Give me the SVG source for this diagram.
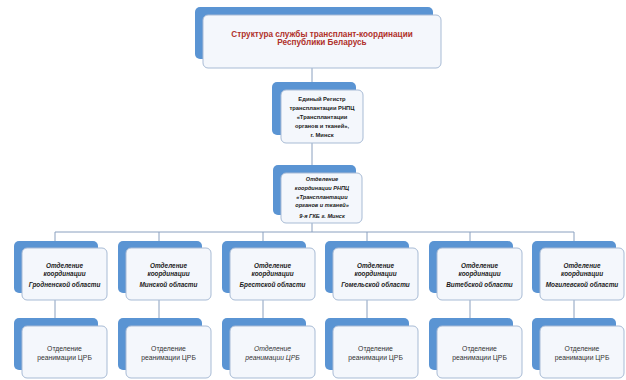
<svg xmlns="http://www.w3.org/2000/svg" width="626" height="380" viewBox="0 0 626 380">
<style>
.bk{fill:#5a94d3}
.fr{fill:#f4f7fc;stroke:#a8bbd5;stroke-width:1}
.ln{stroke:#8aa0bf;stroke-width:1;fill:none}
text{font-family:"Liberation Sans",Arial,sans-serif;text-anchor:middle;fill:#1a1a1a}
.t0{font-size:8.2px;font-weight:bold;fill:#b0302a}
.b{font-size:5.8px;font-weight:bold}
.bi{font-size:5.6px;font-weight:bold;font-style:italic}
.ri{font-size:6.4px;font-weight:bold;font-style:italic}
.n{font-size:6.8px;fill:#333333}
.ni{font-size:6.8px;font-style:italic;fill:#333333}
</style>
<rect width="626" height="380" fill="#ffffff"/>
<g id="connectors">
<path class="ln" d="M312 68V82M312 143V165M312 223V232M55 232H574"/>
<path class="ln" d="M55 232V241M159 232V241M263 232V241M367 232V241M470 232V241M574 232V241"/>
<path class="ln" d="M55 300V318M159 300V318M263 300V318M367 300V318M470 300V318M574 300V318"/>
</g>
<g id="top">
<rect class="bk" x="195" y="7" width="238" height="52" rx="5"/>
<rect class="fr" x="203" y="15" width="238" height="53" rx="5"/>
<text class="t0" x="322" y="37">Структура службы трансплант-координации</text>
<text class="t0" x="322" y="45">Республики Беларусь</text>
</g>
<g id="registry">
<rect class="bk" x="272" y="82" width="84" height="53" rx="5"/>
<rect class="fr" x="281" y="90" width="82" height="53" rx="5"/>
<text class="b" x="322" y="101">Единый Регистр</text>
<text class="b" x="322" y="110">трансплантации РНПЦ</text>
<text class="b" x="322" y="119">«Трансплантации</text>
<text class="b" x="322" y="128">органов и тканей»,</text>
<text class="b" x="322" y="137">г. Минск</text>
</g>
<g id="coord">
<rect class="bk" x="273" y="165" width="83" height="50" rx="5"/>
<rect class="fr" x="281" y="173" width="81" height="50" rx="5"/>
<text class="bi" x="322" y="181">Отделение</text>
<text class="bi" x="322" y="190">координации РНПЦ</text>
<text class="bi" x="322" y="199">«Трансплантации</text>
<text class="bi" x="322" y="207">органов и тканей»</text>
<text class="bi" x="322" y="218">9-я ГКБ г. Минск</text>
</g>
<g id="r1">
<rect class="bk" x="14" y="241" width="84" height="52" rx="5"/>
<rect class="fr" x="22" y="248" width="85" height="52" rx="5"/>
<text class="ri" x="64.5" y="268">Отделение</text>
<text class="ri" x="64.5" y="276">координации</text>
<text class="ri" x="64.5" y="287">Гродненской области</text>
</g>
<g id="r2">
<rect class="bk" x="118" y="241" width="84" height="52" rx="5"/>
<rect class="fr" x="126" y="248" width="85" height="52" rx="5"/>
<text class="ri" x="168.5" y="268">Отделение</text>
<text class="ri" x="168.5" y="276">координации</text>
<text class="ri" x="168.5" y="287">Минской области</text>
</g>
<g id="r3">
<rect class="bk" x="222" y="241" width="84" height="52" rx="5"/>
<rect class="fr" x="230" y="248" width="85" height="52" rx="5"/>
<text class="ri" x="272.5" y="268">Отделение</text>
<text class="ri" x="272.5" y="276">координации</text>
<text class="ri" x="272.5" y="287">Брестской области</text>
</g>
<g id="r4">
<rect class="bk" x="325" y="241" width="84" height="52" rx="5"/>
<rect class="fr" x="333" y="248" width="85" height="52" rx="5"/>
<text class="ri" x="375.5" y="268">Отделение</text>
<text class="ri" x="375.5" y="276">координации</text>
<text class="ri" x="375.5" y="287">Гомельской области</text>
</g>
<g id="r5">
<rect class="bk" x="429" y="241" width="84" height="52" rx="5"/>
<rect class="fr" x="437" y="248" width="85" height="52" rx="5"/>
<text class="ri" x="479.5" y="268">Отделение</text>
<text class="ri" x="479.5" y="276">координации</text>
<text class="ri" x="479.5" y="287">Витебской области</text>
</g>
<g id="r6">
<rect class="bk" x="532" y="241" width="84" height="52" rx="5"/>
<rect class="fr" x="540" y="248" width="84" height="52" rx="5"/>
<text class="ri" x="582" y="268">Отделение</text>
<text class="ri" x="582" y="276">координации</text>
<text class="ri" x="582" y="287">Могилевской области</text>
</g>
<g id="c1">
<rect class="bk" x="14" y="318" width="84" height="52" rx="5"/>
<rect class="fr" x="22" y="326" width="85" height="52" rx="5"/>
<text class="n" x="64.5" y="351">Отделение</text>
<text class="n" x="64.5" y="360">реанимации ЦРБ</text>
</g>
<g id="c2">
<rect class="bk" x="118" y="318" width="84" height="52" rx="5"/>
<rect class="fr" x="126" y="326" width="85" height="52" rx="5"/>
<text class="n" x="168.5" y="351">Отделение</text>
<text class="n" x="168.5" y="360">реанимации ЦРБ</text>
</g>
<g id="c3">
<rect class="bk" x="222" y="318" width="84" height="52" rx="5"/>
<rect class="fr" x="230" y="326" width="85" height="52" rx="5"/>
<text class="ni" x="272.5" y="351">Отделение</text>
<text class="ni" x="272.5" y="360">реанимации ЦРБ</text>
</g>
<g id="c4">
<rect class="bk" x="325" y="318" width="84" height="52" rx="5"/>
<rect class="fr" x="333" y="326" width="85" height="52" rx="5"/>
<text class="n" x="375.5" y="351">Отделение</text>
<text class="n" x="375.5" y="360">реанимации ЦРБ</text>
</g>
<g id="c5">
<rect class="bk" x="429" y="318" width="84" height="52" rx="5"/>
<rect class="fr" x="437" y="326" width="85" height="52" rx="5"/>
<text class="n" x="479.5" y="351">Отделение</text>
<text class="n" x="479.5" y="360">реанимации ЦРБ</text>
</g>
<g id="c6">
<rect class="bk" x="532" y="318" width="84" height="52" rx="5"/>
<rect class="fr" x="540" y="326" width="84" height="52" rx="5"/>
<text class="n" x="582" y="351">Отделение</text>
<text class="n" x="582" y="360">реанимации ЦРБ</text>
</g>
</svg>
